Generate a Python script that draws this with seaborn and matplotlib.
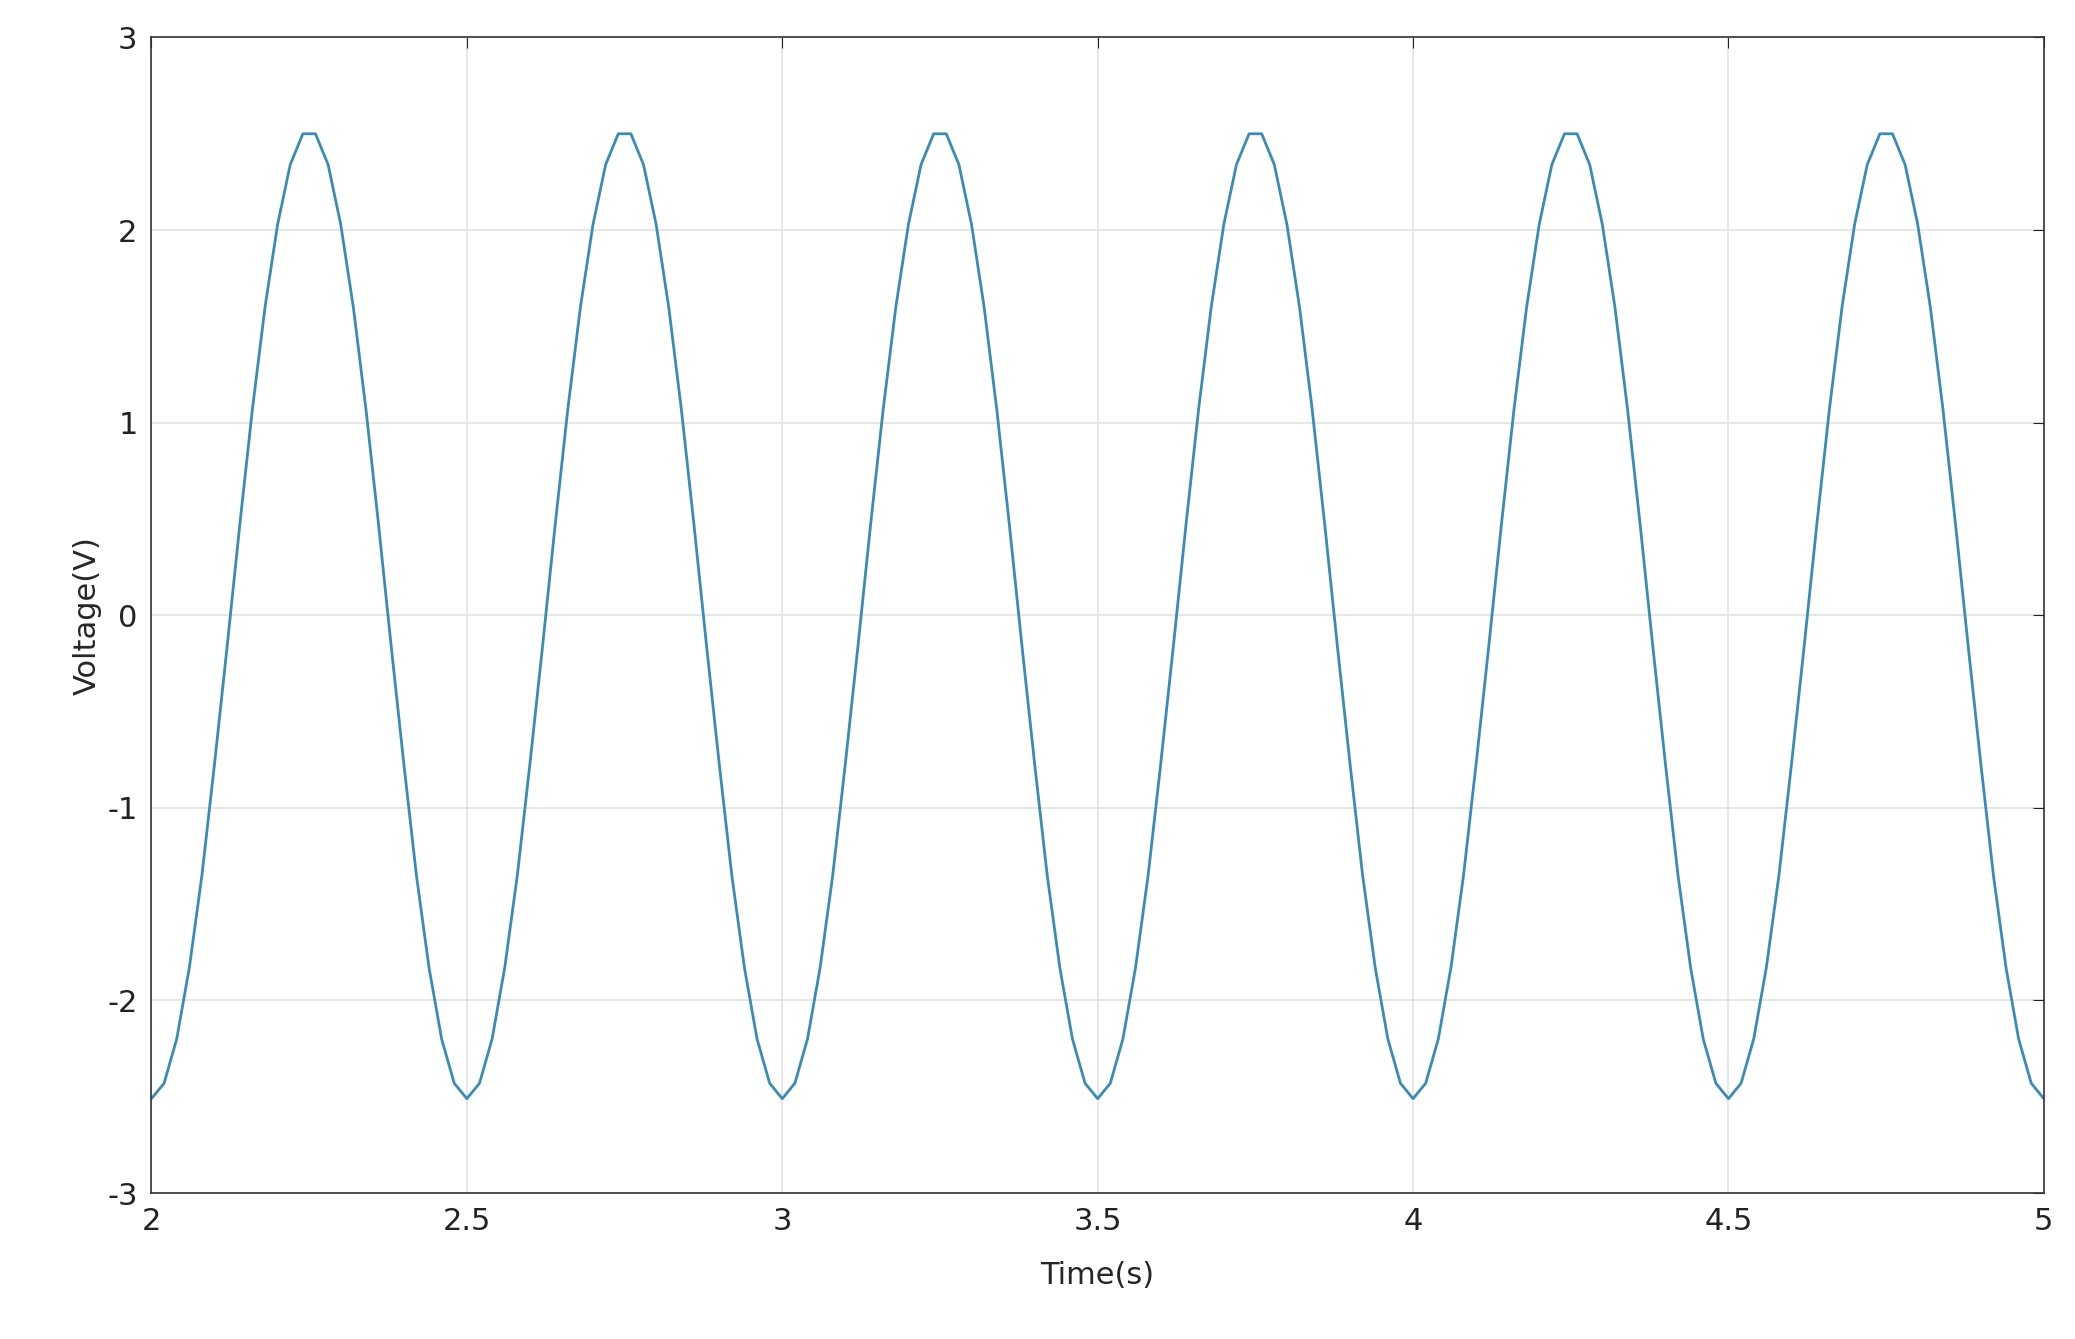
import numpy as np
import matplotlib.pyplot as plt
import seaborn as sns

# one cycle of samples (0.02 s step, starts at a trough)
cycle_values = [-2.51, -2.43, -2.2, -1.83, -1.35, -0.77, -0.16, 0.47, 1.07, 1.6,
                2.03, 2.34, 2.5, 2.5, 2.34, 2.03, 1.6, 1.07, 0.47, -0.16,
                -0.77, -1.35, -1.83, -2.2, -2.43]
n_cycles = 6
t_start, t_step = 2.0, 0.02

voltage = cycle_values * n_cycles + [cycle_values[0]]
time = [round(t_start + i * t_step, 4) for i in range(len(voltage))]

x_ticks = [2, 2.5, 3, 3.5, 4, 4.5, 5]
x_labels = ['2', '2.5', '3', '3.5', '4', '4.5', '5']
y_ticks = [-3, -2, -1, 0, 1, 2, 3]

sns.set_style("white")
plt.rcParams['font.family'] = ['DejaVu Sans']
plt.rcParams['axes.unicode_minus'] = False

fig = plt.figure(figsize=(20.75, 13.39), dpi=100)
ax = fig.add_axes([0.073, 0.109, 0.912, 0.863])
sns.lineplot(x=time, y=voltage, ax=ax, color='#3a8bb5', linewidth=2)

ax.set_xlim(2, 5)
ax.set_ylim(-3, 3)
ax.set_xticks(x_ticks)
ax.set_xticklabels(x_labels)
ax.set_yticks(y_ticks)
ax.grid(True, color='#e3e3e3', linewidth=1.2)
ax.tick_params(direction='in', length=8, labelsize=22, top=True, right=True,
               colors='#222222', pad=10)
for s in ax.spines.values():
    s.set_color('#333333')
    s.set_linewidth(1.2)
ax.set_xlabel('Time(s)', fontsize=22, labelpad=18)
ax.set_ylabel('Voltage(V)', fontsize=22, labelpad=4)

fig.savefig('out.png')
